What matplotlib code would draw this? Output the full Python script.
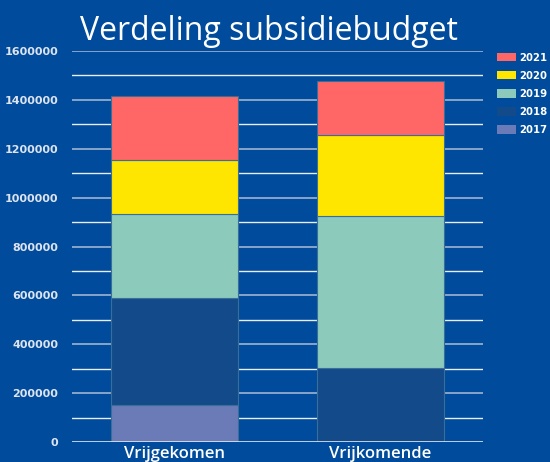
import matplotlib

matplotlib.use("Agg")

import matplotlib.pyplot as plt
from matplotlib.patches import Patch

BG = "#004b9b"

CATEGORIES = ["Vrijgekomen", "Vrijkomende"]
YEARS = ["2017", "2018", "2019", "2020", "2021"]
VALUES = {
    "2017": [150000, 0],
    "2018": [440000, 303000],
    "2019": [343000, 622000],
    "2020": [221000, 331000],
    "2021": [262000, 221000],
}
COLORS = {
    "2017": "#6b7bb8",
    "2018": "#134b8a",
    "2019": "#8ccbbc",
    "2020": "#ffe600",
    "2021": "#ff6666",
}
YTICKS = [0, 200000, 400000, 600000, 800000, 1000000, 1200000, 1400000, 1600000]
YMINOR = [100000, 300000, 500000, 700000, 900000, 1100000, 1300000, 1500000]

fig = plt.figure(figsize=(5.5, 4.62), dpi=100, facecolor=BG)
ax = fig.add_axes((0.131, 0.0433, 0.747, 0.8463), facecolor=BG)

x = list(range(len(CATEGORIES)))
bottom = [0] * len(CATEGORIES)
for yr in YEARS:
    vals = VALUES[yr]
    ax.bar(x, vals, width=0.62, bottom=bottom, color=COLORS[yr],
           edgecolor="#3a6e9a", linewidth=0.8, zorder=3)
    bottom = [b + v for b, v in zip(bottom, vals)]

ax.set_xlim(-0.5, 1.5)
ax.set_ylim(0, 1600000)

# gridlines: whiter at the unlabelled 100k steps, greyer at the labelled ones
for y in YMINOR:
    ax.axhline(y, color="#e8eef8", linewidth=1.0, zorder=1)
for y in YTICKS[1:]:
    ax.axhline(y, color="#9fb3d1", linewidth=1.2, zorder=1)
ax.axhline(0, color="#dfe6f2", linewidth=1.2, zorder=4)

ax.set_yticks(YTICKS)
ax.set_yticklabels([str(v) for v in YTICKS], fontsize=8, fontweight="bold",
                   color="#dde4f0", family="DejaVu Sans")
ax.set_xticks(x)
ax.set_xticklabels(CATEGORIES, fontsize=12, color="white", family="Open Sans",
                   fontweight="semibold")
ax.tick_params(axis="y", length=0, pad=10)
ax.tick_params(axis="x", length=0, pad=3)
for s in ax.spines.values():
    s.set_visible(False)

fig.text(0.489, 0.932, "Verdeling subsidiebudget", ha="center", va="center",
         fontsize=23, color="white", family="Open Sans")

handles = [Patch(facecolor=COLORS[yr], edgecolor="none", label=yr)
           for yr in reversed(YEARS)]
leg = fig.legend(handles=handles, loc="upper left", bbox_to_anchor=(0.903, 0.886),
                 frameon=False, prop={"size": 7.3, "weight": "bold", "family": "DejaVu Sans"},
                 labelcolor="white", handlelength=1.9, handleheight=0.9,
                 handletextpad=0.35, labelspacing=0.8, borderpad=0,
                 borderaxespad=0)

fig.savefig("out.png", dpi=100, facecolor=BG)
